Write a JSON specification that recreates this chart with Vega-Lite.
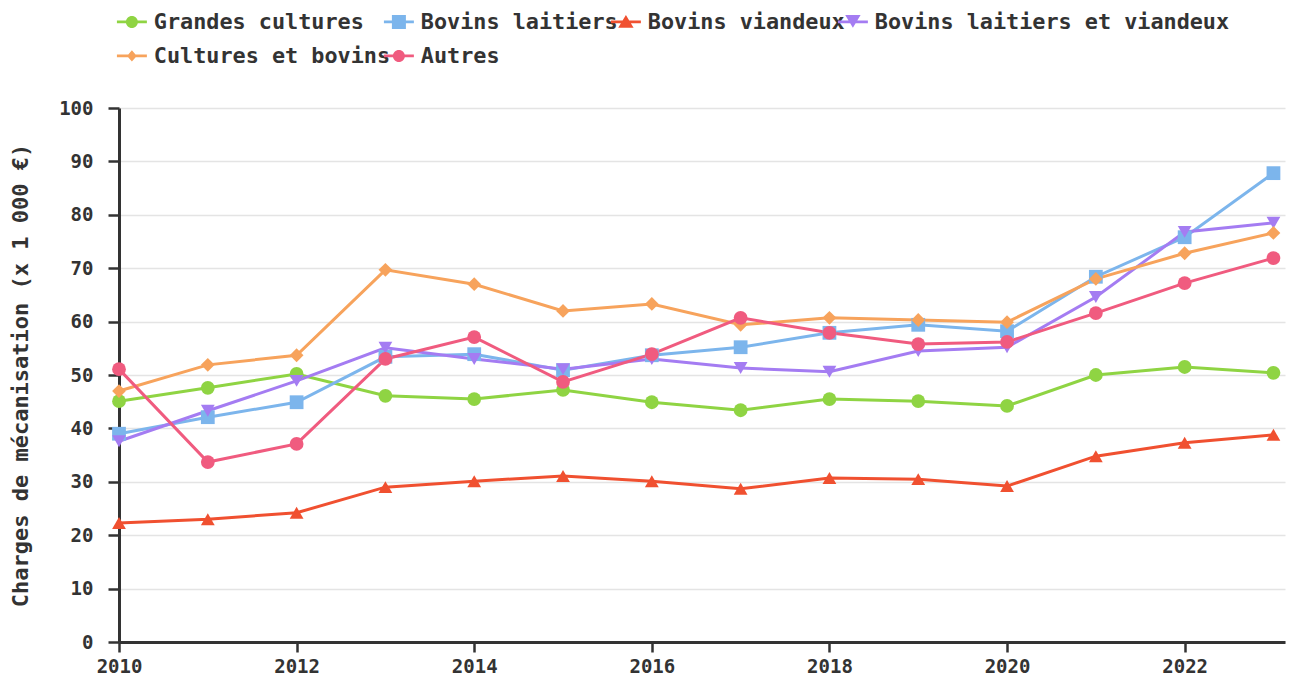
{
  "$schema": "https://vega.github.io/schema/vega-lite/v6.json",
  "width": 1166,
  "height": 534,
  "autosize": {"type": "none"},
  "padding": {"left": 119, "top": 108, "right": 5, "bottom": 37},
  "background": "white",
  "config": {
    "font": "DejaVu Sans Mono",
    "view": {"stroke": null}
  },
  "data": {"values": [
    {"annee":2010,"type":"Grandes cultures","valeur":45.1},{"annee":2011,"type":"Grandes cultures","valeur":47.6},{"annee":2012,"type":"Grandes cultures","valeur":50.2},{"annee":2013,"type":"Grandes cultures","valeur":46.1},{"annee":2014,"type":"Grandes cultures","valeur":45.5},{"annee":2015,"type":"Grandes cultures","valeur":47.2},{"annee":2016,"type":"Grandes cultures","valeur":44.9},{"annee":2017,"type":"Grandes cultures","valeur":43.4},{"annee":2018,"type":"Grandes cultures","valeur":45.5},{"annee":2019,"type":"Grandes cultures","valeur":45.1},{"annee":2020,"type":"Grandes cultures","valeur":44.2},{"annee":2021,"type":"Grandes cultures","valeur":50.0},{"annee":2022,"type":"Grandes cultures","valeur":51.5},{"annee":2023,"type":"Grandes cultures","valeur":50.4},
    {"annee":2010,"type":"Bovins laitiers","valeur":39.0},{"annee":2011,"type":"Bovins laitiers","valeur":42.1},{"annee":2012,"type":"Bovins laitiers","valeur":44.9},{"annee":2013,"type":"Bovins laitiers","valeur":53.4},{"annee":2014,"type":"Bovins laitiers","valeur":53.9},{"annee":2015,"type":"Bovins laitiers","valeur":50.9},{"annee":2016,"type":"Bovins laitiers","valeur":53.7},{"annee":2017,"type":"Bovins laitiers","valeur":55.2},{"annee":2018,"type":"Bovins laitiers","valeur":57.9},{"annee":2019,"type":"Bovins laitiers","valeur":59.4},{"annee":2020,"type":"Bovins laitiers","valeur":58.2},{"annee":2021,"type":"Bovins laitiers","valeur":68.4},{"annee":2022,"type":"Bovins laitiers","valeur":75.8},{"annee":2023,"type":"Bovins laitiers","valeur":87.8},
    {"annee":2010,"type":"Bovins viandeux","valeur":22.3},{"annee":2011,"type":"Bovins viandeux","valeur":23.0},{"annee":2012,"type":"Bovins viandeux","valeur":24.2},{"annee":2013,"type":"Bovins viandeux","valeur":29.0},{"annee":2014,"type":"Bovins viandeux","valeur":30.1},{"annee":2015,"type":"Bovins viandeux","valeur":31.1},{"annee":2016,"type":"Bovins viandeux","valeur":30.1},{"annee":2017,"type":"Bovins viandeux","valeur":28.7},{"annee":2018,"type":"Bovins viandeux","valeur":30.7},{"annee":2019,"type":"Bovins viandeux","valeur":30.5},{"annee":2020,"type":"Bovins viandeux","valeur":29.2},{"annee":2021,"type":"Bovins viandeux","valeur":34.8},{"annee":2022,"type":"Bovins viandeux","valeur":37.3},{"annee":2023,"type":"Bovins viandeux","valeur":38.8},
    {"annee":2010,"type":"Bovins laitiers et viandeux","valeur":37.6},{"annee":2011,"type":"Bovins laitiers et viandeux","valeur":43.3},{"annee":2012,"type":"Bovins laitiers et viandeux","valeur":48.9},{"annee":2013,"type":"Bovins laitiers et viandeux","valeur":55.1},{"annee":2014,"type":"Bovins laitiers et viandeux","valeur":53.0},{"annee":2015,"type":"Bovins laitiers et viandeux","valeur":51.1},{"annee":2016,"type":"Bovins laitiers et viandeux","valeur":53.0},{"annee":2017,"type":"Bovins laitiers et viandeux","valeur":51.3},{"annee":2018,"type":"Bovins laitiers et viandeux","valeur":50.6},{"annee":2019,"type":"Bovins laitiers et viandeux","valeur":54.5},{"annee":2020,"type":"Bovins laitiers et viandeux","valeur":55.2},{"annee":2021,"type":"Bovins laitiers et viandeux","valeur":64.6},{"annee":2022,"type":"Bovins laitiers et viandeux","valeur":76.8},{"annee":2023,"type":"Bovins laitiers et viandeux","valeur":78.5},
    {"annee":2010,"type":"Cultures et bovins","valeur":47.0},{"annee":2011,"type":"Cultures et bovins","valeur":51.9},{"annee":2012,"type":"Cultures et bovins","valeur":53.7},{"annee":2013,"type":"Cultures et bovins","valeur":69.7},{"annee":2014,"type":"Cultures et bovins","valeur":67.0},{"annee":2015,"type":"Cultures et bovins","valeur":62.0},{"annee":2016,"type":"Cultures et bovins","valeur":63.3},{"annee":2017,"type":"Cultures et bovins","valeur":59.4},{"annee":2018,"type":"Cultures et bovins","valeur":60.7},{"annee":2019,"type":"Cultures et bovins","valeur":60.3},{"annee":2020,"type":"Cultures et bovins","valeur":59.9},{"annee":2021,"type":"Cultures et bovins","valeur":68.0},{"annee":2022,"type":"Cultures et bovins","valeur":72.8},{"annee":2023,"type":"Cultures et bovins","valeur":76.6},
    {"annee":2010,"type":"Autres","valeur":51.1},{"annee":2011,"type":"Autres","valeur":33.7},{"annee":2012,"type":"Autres","valeur":37.1},{"annee":2013,"type":"Autres","valeur":53.0},{"annee":2014,"type":"Autres","valeur":57.1},{"annee":2015,"type":"Autres","valeur":48.7},{"annee":2016,"type":"Autres","valeur":53.9},{"annee":2017,"type":"Autres","valeur":60.7},{"annee":2018,"type":"Autres","valeur":57.9},{"annee":2019,"type":"Autres","valeur":55.8},{"annee":2020,"type":"Autres","valeur":56.2},{"annee":2021,"type":"Autres","valeur":61.6},{"annee":2022,"type":"Autres","valeur":67.2},{"annee":2023,"type":"Autres","valeur":71.9}
  ]},
  "encoding": {
    "x": {
      "field": "annee", "type": "quantitative",
      "scale": {"domain": [2010, 2023.13], "nice": false, "zero": false},
      "axis": {
        "title": null, "values": [2010,2012,2014,2016,2018,2020,2022], "format": "d",
        "grid": false, "domainColor": "#333333", "domainWidth": 3,
        "tickColor": "#333333", "tickWidth": 2.5, "tickSize": 10,
        "labelFontSize": 19, "labelFontWeight": "bold", "labelColor": "#333333",
        "labelPadding": 5, "labelFlush": false
      }
    },
    "y": {
      "field": "valeur", "type": "quantitative",
      "scale": {"domain": [0, 100], "nice": false},
      "axis": {
        "title": "Charges de mécanisation (x 1 000 €)",
        "values": [0,10,20,30,40,50,60,70,80,90,100],
        "grid": true, "gridColor": "#e4e4e4", "gridWidth": 1.5,
        "domainColor": "#333333", "domainWidth": 3,
        "tickColor": "#333333", "tickWidth": 2.5, "tickSize": 11,
        "labelFontSize": 19, "labelFontWeight": "bold", "labelColor": "#333333",
        "labelPadding": 15,
        "titleFontSize": 22, "titleFontWeight": "bold", "titleColor": "#333333",
        "titlePadding": 26
      }
    }
  },
  "layer": [
    {
      "mark": {"type": "line", "strokeWidth": 3},
      "encoding": {
        "color": {
          "field": "type", "type": "nominal",
          "scale": {
            "domain": ["Grandes cultures","Bovins laitiers","Bovins viandeux","Bovins laitiers et viandeux","Cultures et bovins","Autres"],
            "range": ["#8fd443","#7cb5ec","#f05030","#a47cf2","#f7a35c","#f05b7f"]
          },
          "legend": null
        }
      }
    },
    {
      "mark": {"type": "point", "filled": true, "size": 190, "opacity": 1},
      "encoding": {
        "color": {
          "field": "type", "type": "nominal",
          "scale": {
            "domain": ["Grandes cultures","Bovins laitiers","Bovins viandeux","Bovins laitiers et viandeux","Cultures et bovins","Autres"],
            "range": ["#8fd443","#7cb5ec","#f05030","#a47cf2","#f7a35c","#f05b7f"]
          },
          "legend": null
        },
        "shape": {
          "field": "type", "type": "nominal",
          "scale": {
            "domain": ["Grandes cultures","Bovins laitiers","Bovins viandeux","Bovins laitiers et viandeux","Cultures et bovins","Autres"],
            "range": ["circle","square","triangle-up","triangle-down","diamond","circle"]
          },
          "legend": null
        }
      }
    },
    {
      "mark": {"type": "point", "filled": true, "size": 1, "opacity": 0},
      "encoding": {
        "color": {
          "field": "type", "type": "nominal",
          "scale": {
            "domain": ["Grandes cultures","Bovins laitiers","Bovins viandeux","Bovins laitiers et viandeux","Cultures et bovins","Autres"],
            "range": ["#8fd443","#7cb5ec","#f05030","#a47cf2","#f7a35c","#f05b7f"]
          },
          "legend": {
            "title": null, "orient": "none", "legendX": 2, "legendY": -97,
            "direction": "horizontal", "columns": 4, "gridAlign": "none",
            "columnPadding": -8, "rowPadding": 11,
            "symbolSize": 196, "symbolStrokeWidth": 0, "symbolOpacity": 1,
            "labelFontSize": 21.8, "labelFontWeight": "bold", "labelColor": "#333333", "labelLimit": 500, "labelOffset": 11
          }
        },
        "shape": {
          "field": "type", "type": "nominal",
          "scale": {
            "domain": ["Grandes cultures","Bovins laitiers","Bovins viandeux","Bovins laitiers et viandeux","Cultures et bovins","Autres"],
            "range": [
              "M-2.14,-0.21H2.14V0.21H-2.14ZM-0.86,0A0.86,0.86,0,1,1,0.86,0A0.86,0.86,0,1,1,-0.86,0Z",
              "M-2.14,-0.21H2.14V0.21H-2.14ZM-1,-1H1V1H-1Z",
              "M-2.14,-0.21H2.14V0.21H-2.14ZM0,-1L1.1,0.85H-1.1Z",
              "M-2.14,-0.21H2.14V0.21H-2.14ZM0,0.85L-1.1,-1H1.1Z",
              "M-2.14,-0.21H2.14V0.21H-2.14ZM0,-0.8L0.7,0L0,0.8L-0.7,0Z",
              "M-2.14,-0.21H2.14V0.21H-2.14ZM-0.86,0A0.86,0.86,0,1,1,0.86,0A0.86,0.86,0,1,1,-0.86,0Z"
            ]
          },
          "legend": {
            "title": null, "orient": "none", "legendX": 2, "legendY": -97,
            "direction": "horizontal", "columns": 4, "gridAlign": "none",
            "columnPadding": -8, "rowPadding": 11,
            "symbolSize": 196, "symbolStrokeWidth": 0, "symbolOpacity": 1,
            "labelFontSize": 21.8, "labelFontWeight": "bold", "labelColor": "#333333", "labelLimit": 500, "labelOffset": 11
          }
        }
      }
    }
  ],
  "resolve": {"scale": {"color": "independent", "shape": "independent"}}
}
